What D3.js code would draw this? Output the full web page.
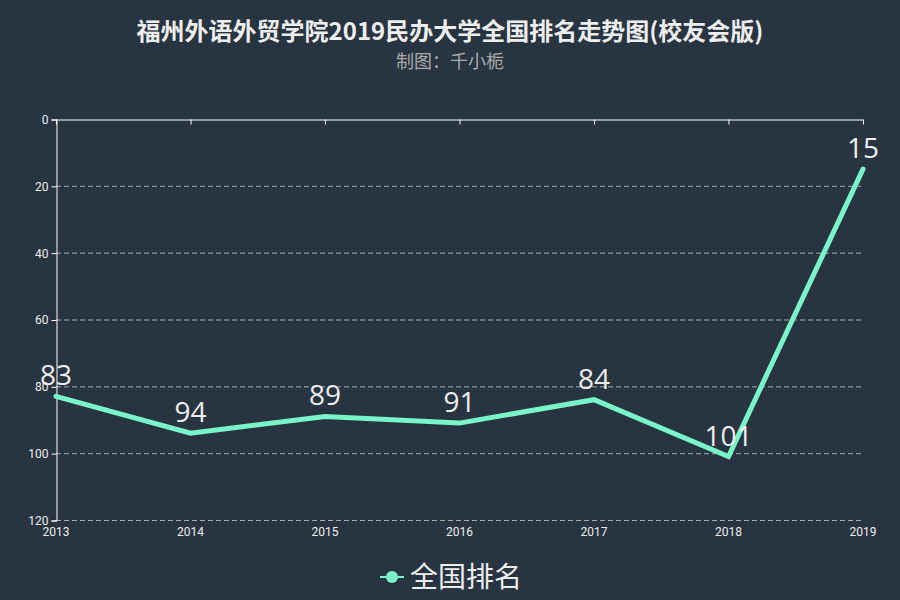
<!DOCTYPE html>
<html>
<head>
<meta charset="utf-8">
<script src="https://cdn.jsdelivr.net/npm/d3@7"></script>
<style>
  body { margin: 0; background: #283440; }
  text { font-family: "Noto Sans CJK SC", "Microsoft YaHei", sans-serif; }
</style>
</head>
<body>
<script>
var years = ["2013", "2014", "2015", "2016", "2017", "2018", "2019"];
var ranks = [83, 94, 89, 91, 84, 101, 15];
var yTicks = [0, 20, 40, 60, 80, 100, 120];
var seriesName = "全国排名";

var width = 900, height = 600;
var margin = {top: 119, right: 37, bottom: 80, left: 56};

var svg = d3.select("body")
  .append("svg")
  .attr("width", width)
  .attr("height", height);

svg.append("rect").attr("width", width).attr("height", height).attr("fill", "#283440");

// title
svg.append("text")
  .attr("x", 450).attr("y", 40)
  .attr("text-anchor", "middle")
  .attr("font-size", 24).attr("font-weight", "bold")
  .attr("fill", "#eeeeee")
  .text("福州外语外贸学院2019民办大学全国排名走势图(校友会版)");

svg.append("text")
  .attr("x", 450).attr("y", 68)
  .attr("text-anchor", "middle")
  .attr("font-size", 18)
  .attr("fill", "#aaaaaa")
  .text("制图：千小栀");

var x = d3.scalePoint()
  .domain(years)
  .range([margin.left, width - margin.right]);

var y = d3.scaleLinear()
  .domain([0, 120])
  .range([margin.top, height - margin.bottom]);

// grid lines (dashed)
svg.append("g")
  .selectAll("line")
  .data(yTicks.filter(function(d){ return d > 0; }))
  .enter().append("line")
  .attr("x1", margin.left).attr("x2", width - margin.right)
  .attr("y1", function(d){ return y(d) + 0.5; })
  .attr("y2", function(d){ return y(d) + 0.5; })
  .attr("stroke", "#aaaaaa")
  .attr("stroke-dasharray", "5,3");

// y axis
var yAxis = svg.append("g")
  .attr("transform", "translate(" + (margin.left + 0.5) + ",0.5)")
  .call(d3.axisLeft(y).tickValues(yTicks).tickSize(5).tickPadding(3));
yAxis.selectAll("line, path").attr("stroke", "#ffffff");
yAxis.selectAll("text").attr("fill", "#eeeeee").attr("font-size", 12)
  .style("font-family", "Roboto, sans-serif");

// top axis line with ticks pointing down
var xAxisTop = svg.append("g")
  .attr("transform", "translate(0," + (margin.top + 0.5) + ")")
  .call(d3.axisBottom(x).tickSize(5).tickSizeOuter(0).tickFormat(""));
xAxisTop.selectAll("line, path").attr("stroke", "#ffffff");

// x labels at bottom
svg.append("g")
  .selectAll("text")
  .data(years)
  .enter().append("text")
  .attr("x", function(d){ return x(d); })
  .attr("y", height - margin.bottom + 16)
  .attr("text-anchor", "middle")
  .attr("font-size", 12)
  .attr("fill", "#eeeeee")
  .style("font-family", "Roboto, sans-serif")
  .text(function(d){ return d; });

// line
var line = d3.line()
  .x(function(d, i){ return x(years[i]); })
  .y(function(d){ return y(d); });

svg.append("path")
  .datum(ranks)
  .attr("d", line)
  .attr("fill", "none")
  .attr("stroke", "#7af5ca")
  .attr("stroke-width", 5)
  .attr("stroke-linecap", "round");

// value labels
svg.append("g")
  .selectAll("text")
  .data(ranks)
  .enter().append("text")
  .attr("x", function(d, i){ return x(years[i]); })
  .attr("y", function(d){ return y(d) - 11; })
  .attr("text-anchor", "middle")
  .attr("font-size", 28)
  .attr("fill", "#eeeeee")
  .style("font-family", "\"Open Sans\", sans-serif")
  .text(function(d){ return d; });

// legend
var lg = svg.append("g").attr("transform", "translate(380,577)");
lg.append("line").attr("x1", 0).attr("x2", 24).attr("y1", 0).attr("y2", 0)
  .attr("stroke", "#7af5ca").attr("stroke-width", 2);
lg.append("circle").attr("cx", 12).attr("cy", 0).attr("r", 6).attr("fill", "#7af5ca");
lg.append("text").attr("x", 30).attr("y", 10)
  .attr("font-size", 28).attr("fill", "#eeeeee")
  .text(seriesName);
</script>
</body>
</html>
